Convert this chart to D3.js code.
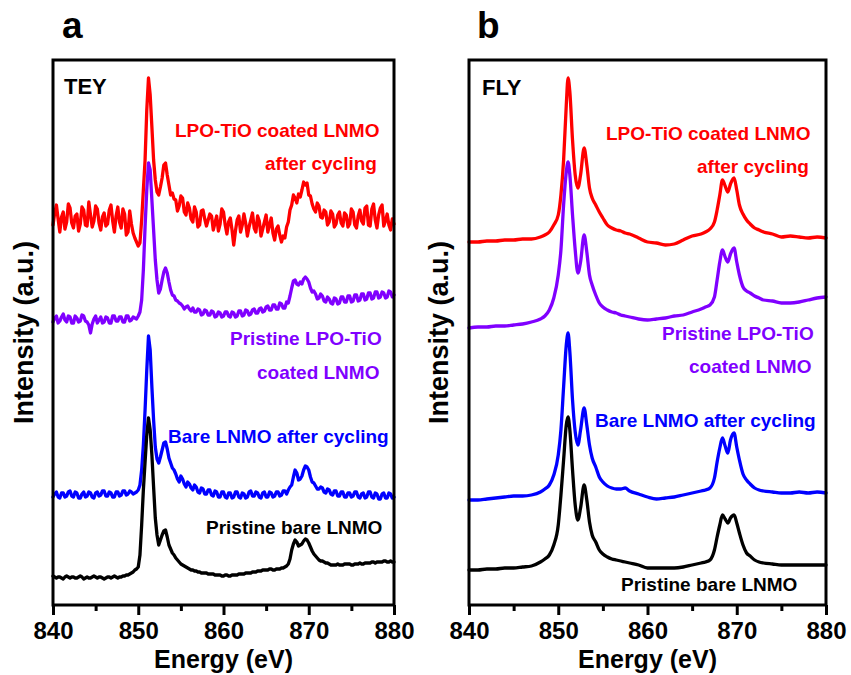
<!DOCTYPE html>
<html><head><meta charset="utf-8">
<script src="https://cdn.jsdelivr.net/npm/d3@7/dist/d3.min.js"></script>
<style>
html,body{margin:0;padding:0;background:#fff;}
svg{display:block;}
text{font-family:'Liberation Sans',Arial,sans-serif;font-weight:bold;}
</style></head>
<body><svg id="chart" width="851" height="675"></svg>
<script>
// ---------- DATA ----------
const xTicks = [840, 850, 860, 870, 880];
const xMinorTicks = [845, 855, 865, 875];

// TEY energies: uniform 0.2 eV grid 840..880 (201 points)
const teyEnergy = d3.range(201).map(i => +(840 + 0.2 * i).toFixed(1));
const teyRed = [
 38.0,39.2,40.0,38.6,37.3,38.8,39.3,37.6,38.3,40.1,
 39.7,38.2,37.7,38.9,39.1,37.4,38.1,39.8,39.5,38.0,
 37.9,40.3,39.0,37.8,38.4,39.9,39.6,38.2,37.5,38.8,
 39.2,37.9,38.1,39.5,40.0,38.4,37.3,38.9,39.8,38.3,
 37.7,39.6,39.1,37.0,37.3,39.4,38.1,37.2,36.7,36.3,
 35.9,36.2,38.5,41.5,44.5,49.5,52.7,51.0,47.8,44.5,
 42.5,41.3,41.0,41.8,42.7,44.0,44.2,43.0,42.0,41.0,
 41.2,40.6,40.5,39.4,39.9,40.9,40.7,39.3,39.0,40.2,
 39.7,38.6,38.3,39.8,39.3,37.8,38.0,39.4,39.5,38.6,
 37.9,38.5,39.1,38.9,37.5,38.2,38.9,37.4,38.1,39.6,
 39.3,38.0,37.1,38.3,38.7,37.5,36.0,37.4,38.5,38.9,
 37.3,38.0,39.1,38.2,36.9,37.8,38.5,39.2,37.7,37.3,
 38.9,38.4,36.9,37.6,38.3,39.0,37.3,38.0,38.7,37.2,
 36.5,37.6,37.9,37.0,36.3,36.9,36.7,37.8,38.3,39.5,
 40.0,41.0,40.7,40.2,41.1,40.8,41.5,42.3,42.0,42.2,
 41.0,40.9,40.1,39.6,39.3,40.2,39.9,38.8,38.7,39.5,
 39.3,38.0,38.3,39.4,39.1,37.8,38.1,39.0,39.3,38.2,
 37.9,39.2,39.0,37.8,38.1,39.6,39.3,38.0,37.7,38.9,
 39.5,38.4,38.1,39.7,39.9,38.0,37.9,39.6,40.1,38.5,
 37.7,39.0,39.7,40.0,37.9,38.4,39.1,38.0,37.5,38.6,
 38.1];
const teyPurple = [
 28.3,28.7,28.9,28.2,28.4,28.8,29.1,28.5,28.3,28.9,
 28.8,28.2,28.2,28.9,28.7,28.3,28.4,29.0,28.9,28.4,
 28.3,28.0,27.2,28.1,28.6,28.9,28.2,28.5,28.8,28.2,
 28.3,28.8,28.7,28.2,28.2,28.9,28.9,28.4,28.4,28.8,
 28.8,28.3,28.3,28.9,28.9,28.4,28.5,28.8,28.7,28.6,
 28.9,29.3,30.5,33.5,37.8,41.5,44.2,43.5,40.5,37.5,
 34.5,32.5,31.2,31.6,32.5,33.3,33.7,33.2,32.3,31.5,
 31.0,30.9,30.5,30.4,30.2,30.1,29.9,29.6,29.8,29.9,
 29.6,29.4,29.7,29.3,29.3,29.6,29.5,29.0,29.1,29.5,
 29.4,29.0,29.0,29.4,29.3,28.8,28.9,29.3,29.2,28.8,
 28.9,29.3,29.3,28.9,28.8,29.3,29.2,28.8,28.9,29.4,
 29.4,28.9,29.0,29.5,29.4,29.0,29.1,29.5,29.6,29.2,
 29.2,29.6,29.7,29.3,29.4,29.8,29.9,29.5,29.5,30.0,
 30.0,29.6,29.6,30.2,30.1,29.7,29.7,30.3,30.2,30.9,
 31.7,32.4,32.5,32.1,32.0,32.3,32.1,32.6,32.8,32.6,
 32.3,31.7,31.3,31.4,31.1,30.6,30.7,31.1,30.9,30.4,
 30.3,30.8,30.6,30.2,30.1,30.7,30.6,30.1,30.2,30.8,
 30.8,30.3,30.3,30.9,30.9,30.3,30.4,31.0,31.0,30.4,
 30.5,31.1,31.1,30.5,30.6,31.2,31.2,30.6,30.7,31.3,
 31.3,30.7,30.8,31.3,31.2,30.7,30.8,31.4,31.3,30.8,
 31.0];
const teyBlue = [
 10.8,11.1,11.3,10.8,10.7,11.2,11.2,10.8,10.9,11.3,
 11.4,10.9,10.8,11.3,11.2,10.7,10.7,11.1,11.3,10.8,
 10.9,11.3,11.2,10.8,10.7,11.2,11.3,10.9,11.0,11.4,
 11.4,10.9,10.9,11.3,11.2,10.8,10.8,11.3,11.3,10.9,
 11.0,11.4,11.4,11.0,11.1,11.4,11.3,11.1,11.2,11.3,
 11.5,12.0,13.5,16.0,19.5,23.5,26.9,25.5,21.8,18.5,
 15.8,14.6,14.2,14.8,15.5,16.2,16.3,15.6,14.7,14.2,
 13.7,13.5,13.1,12.6,12.3,12.9,12.6,12.1,11.8,12.3,
 12.1,11.7,11.5,12.0,11.8,11.3,11.2,11.7,11.6,11.1,
 11.1,11.5,11.5,11.0,10.9,11.4,11.3,10.8,10.8,11.3,
 11.3,10.8,10.7,11.2,11.2,10.7,10.8,11.3,11.3,10.8,
 10.7,11.2,11.1,10.7,10.8,11.3,11.4,10.9,10.9,11.3,
 11.2,10.8,10.7,11.2,11.3,10.8,10.8,11.3,11.2,10.8,
 10.9,11.3,11.3,10.9,11.0,11.4,11.4,11.1,11.5,11.8,
 12.0,12.8,13.5,13.2,12.5,12.6,12.9,13.5,13.9,13.8,
 13.5,12.8,12.3,12.2,11.9,11.6,11.6,11.8,11.7,11.3,
 11.2,11.6,11.5,11.1,11.0,11.4,11.4,10.9,10.9,11.3,
 11.3,10.8,10.8,11.2,11.2,10.8,10.9,11.3,11.3,10.8,
 10.7,11.1,11.2,10.7,10.8,11.3,11.3,10.8,10.7,11.2,
 11.1,10.6,10.6,11.1,11.2,10.7,10.7,11.2,11.1,10.7,
 10.8];
const teyBlack = [
 2.9,2.8,2.7,2.8,2.8,2.7,2.6,2.8,2.9,2.8,
 2.7,2.8,2.8,2.7,2.7,2.8,2.9,2.8,2.6,2.7,
 2.8,2.7,2.7,2.8,2.9,2.8,2.7,2.8,2.8,2.7,
 2.6,2.7,2.8,2.8,2.7,2.8,2.9,2.8,2.7,2.8,
 2.8,2.9,2.9,3.0,3.0,3.1,3.2,3.3,3.5,3.6,
 3.8,5.0,8.0,11.5,14.3,17.0,18.7,17.5,15.0,11.8,
 8.7,7.0,6.0,6.5,7.0,7.4,7.5,6.8,6.0,5.6,
 5.2,5.0,4.7,4.5,4.3,4.1,4.0,3.9,3.8,3.7,
 3.6,3.5,3.5,3.4,3.4,3.3,3.3,3.2,3.2,3.2,
 3.2,3.1,3.1,3.1,3.1,3.0,3.0,3.0,3.0,2.9,
 2.9,3.0,3.0,2.9,2.9,3.0,3.0,3.0,3.0,3.1,
 3.1,3.1,3.1,3.2,3.2,3.2,3.2,3.3,3.3,3.3,
 3.4,3.4,3.4,3.5,3.5,3.5,3.5,3.6,3.6,3.5,
 3.5,3.6,3.6,3.6,3.7,3.7,3.8,3.9,4.1,4.6,
 5.5,6.1,6.5,6.3,5.9,6.0,6.1,6.4,6.6,6.5,
 6.2,5.8,5.4,5.1,4.9,4.7,4.5,4.4,4.4,4.3,
 4.2,4.2,4.1,4.0,4.0,4.0,4.0,4.1,4.0,4.0,
 4.0,4.1,4.1,4.1,4.1,4.0,4.0,4.1,4.1,4.1,
 4.2,4.1,4.1,4.2,4.2,4.2,4.2,4.3,4.3,4.2,
 4.3,4.3,4.3,4.3,4.4,4.4,4.3,4.3,4.4,4.3,
 4.3];

// FLY energies (non-uniform sampling)
const flyEnergy = [840,841,842,843,844,845,846,847,848,848.5,
 849,849.5,850,850.3,850.6,850.9,851.1,851.3,851.6,851.9,
 852.2,852.5,852.9,853.2,853.5,853.8,854.2,854.6,855,855.5,
 856,856.5,857,857.5,858,859,860,861,862,863,
 864,865,866,866.5,867,867.5,867.8,868.1,868.4,868.7,
 869,869.3,869.7,870,870.3,870.7,871.1,871.5,872,872.5,
 873,874,875,876,877,878,879,880];
const flyRed = [36.3,36.3,36.4,36.4,36.5,36.5,36.6,36.6,36.8,37.0,
 37.3,38.0,39.0,41.0,44.5,50.0,52.7,51.3,46.5,43.0,
 41.7,43.0,45.7,44.0,41.7,40.7,40.0,39.3,38.7,38.0,
 37.7,37.5,37.4,37.2,37.1,36.7,36.3,36.2,36.0,36.1,
 36.5,36.9,37.1,37.3,37.6,38.3,39.5,41.0,42.5,41.9,
 41.3,42.1,42.7,41.5,40.0,39.1,38.5,38.1,37.7,37.5,
 37.3,37.1,36.8,36.9,36.8,36.7,36.8,36.7];
const flyPurple = [27.7,27.8,27.8,27.9,27.9,28.0,28.1,28.3,28.6,28.9,
 29.5,30.7,33.0,35.5,40.0,43.3,44.3,43.0,39.0,35.5,
 33.2,34.3,37.0,35.3,33.0,32.0,31.0,30.2,29.8,29.5,
 29.3,29.2,29.0,28.9,28.8,28.6,28.5,28.6,28.7,28.9,
 29.0,29.3,29.6,29.8,30.0,30.8,32.5,34.3,35.5,34.8,
 34.3,35.1,35.7,34.3,33.0,31.8,31.4,31.2,30.9,30.7,
 30.5,30.4,30.2,30.2,30.3,30.5,30.7,30.8];
const flyBlue = [10.5,10.5,10.6,10.7,10.8,10.9,10.9,11.0,11.3,11.6,
 12.0,13.0,15.0,17.5,21.8,26.0,27.2,25.3,20.5,17.3,
 16.0,17.5,19.7,18.0,16.0,14.7,13.8,12.8,12.3,11.9,
 11.7,11.6,11.6,11.7,11.4,11.1,10.8,10.6,10.7,10.8,
 11.0,11.2,11.4,11.5,11.7,12.7,14.3,15.7,16.7,15.9,
 15.2,16.5,17.2,15.8,14.5,13.1,12.5,12.1,11.7,11.5,
 11.4,11.3,11.2,11.2,11.3,11.2,11.3,11.2];
const flyBlack = [3.5,3.5,3.6,3.6,3.7,3.7,3.8,3.9,4.3,4.6,
 5.0,6.0,8.0,11.0,14.5,18.0,18.8,17.5,13.5,10.0,
 8.5,9.7,12.0,10.5,8.3,7.0,6.3,5.5,5.1,4.8,
 4.6,4.5,4.4,4.3,4.2,4.0,3.7,3.7,3.7,3.7,
 3.8,4.0,4.2,4.3,4.5,5.5,6.8,8.0,9.0,8.6,
 8.2,8.7,9.0,8.2,7.2,6.0,5.2,4.9,4.5,4.3,
 4.2,4.1,4.0,4.0,4.0,4.0,4.0,4.0];

const seriesNames = ["LPO-TiO coated LNMO after cycling", "Pristine LPO-TiO coated LNMO",
  "Bare LNMO after cycling", "Pristine bare LNMO"];
const colors = ["#ff0000", "#8000ff", "#0000ff", "#000000"];

// ---------- DRAW ----------
const svg = d3.select("#chart");
svg.append("rect").attr("width", 851).attr("height", 675).attr("fill", "#fff");

const y = d3.scaleLinear().domain([0, 54.5]).range([605, 60]);

const panels = [
  { letter: "a", mode: "TEY", x0: 53, x1: 394, energy: teyEnergy,
    series: [teyRed, teyPurple, teyBlue, teyBlack], curve: d3.curveLinear, sw: 3.3,
    letterX: 62, modeX: 64, modeY: 94, yTitleX: 33,
    labels: [
      { t: "LPO-TiO coated LNMO", x: 175, y: 137, c: 0 },
      { t: "after cycling", x: 265, y: 170, c: 0 },
      { t: "Pristine LPO-TiO", x: 230, y: 345, c: 1 },
      { t: "coated LNMO", x: 257, y: 379, c: 1 },
      { t: "Bare LNMO after cycling", x: 168, y: 443, c: 2 },
      { t: "Pristine bare LNMO", x: 206, y: 534, c: 3 }
    ] },
  { letter: "b", mode: "FLY", x0: 469, x1: 826, energy: flyEnergy,
    series: [flyRed, flyPurple, flyBlue, flyBlack], curve: d3.curveMonotoneX, sw: 3.3,
    letterX: 477, modeX: 482, modeY: 95, yTitleX: 448,
    labels: [
      { t: "LPO-TiO coated LNMO", x: 606, y: 140, c: 0 },
      { t: "after cycling", x: 697, y: 173, c: 0 },
      { t: "Pristine LPO-TiO", x: 662, y: 340, c: 1 },
      { t: "coated LNMO", x: 689, y: 373, c: 1 },
      { t: "Bare LNMO after cycling", x: 595, y: 427, c: 2 },
      { t: "Pristine bare LNMO", x: 621, y: 591, c: 3 }
    ] }
];

panels.forEach(p => {
  const x = d3.scaleLinear().domain([840, 880]).range([p.x0, p.x1]);
  const g = svg.append("g");

  // curves
  const line = d3.line().x(d => x(d[0])).y(d => y(d[1])).curve(p.curve);
  p.series.forEach((vals, i) => {
    const pts = p.energy.map((e, k) => [e, vals[k]]);
    g.append("path").datum(pts)
      .attr("d", line)
      .attr("fill", "none")
      .attr("stroke", colors[i])
      .attr("stroke-width", p.sw)
      .attr("stroke-linejoin", "round")
      .attr("stroke-linecap", "round");
  });

  // frame
  g.append("rect")
    .attr("x", p.x0).attr("y", 60)
    .attr("width", p.x1 - p.x0).attr("height", 545)
    .attr("fill", "none").attr("stroke", "#000").attr("stroke-width", 3);

  // major axis
  const ax = g.append("g").attr("transform", "translate(0,605)")
    .call(d3.axisBottom(x).tickValues(xTicks).tickSize(10).tickPadding(7).tickFormat(d3.format("d")));
  ax.select(".domain").remove();
  ax.selectAll("line").attr("stroke", "#000").attr("stroke-width", 3);
  ax.selectAll("text").attr("fill", "#000")
    .style("font-size", "24px").style("font-family", "'Liberation Sans',Arial,sans-serif")
    .style("font-weight", "bold");
  // minor axis
  const mx = g.append("g").attr("transform", "translate(0,605)")
    .call(d3.axisBottom(x).tickValues(xMinorTicks).tickSize(6).tickFormat(""));
  mx.select(".domain").remove();
  mx.selectAll("line").attr("stroke", "#000").attr("stroke-width", 3);

  // axis titles
  g.append("text").attr("x", (p.x0 + p.x1) / 2).attr("y", 668)
    .attr("text-anchor", "middle").style("font-size", "25px").text("Energy (eV)");
  g.append("text").attr("transform", `translate(${p.yTitleX},332.5) rotate(-90)`)
    .attr("text-anchor", "middle").style("font-size", "27px").text("Intensity (a.u.)");

  // panel letter and mode
  g.append("text").attr("x", p.letterX).attr("y", 38).style("font-size", "37px").text(p.letter);
  g.append("text").attr("x", p.modeX).attr("y", p.modeY).style("font-size", "22px").text(p.mode);

  // series labels
  p.labels.forEach(l => {
    g.append("text").attr("x", l.x).attr("y", l.y)
      .attr("fill", colors[l.c]).style("font-size", "19px").text(l.t);
  });
});
</script></body></html>
